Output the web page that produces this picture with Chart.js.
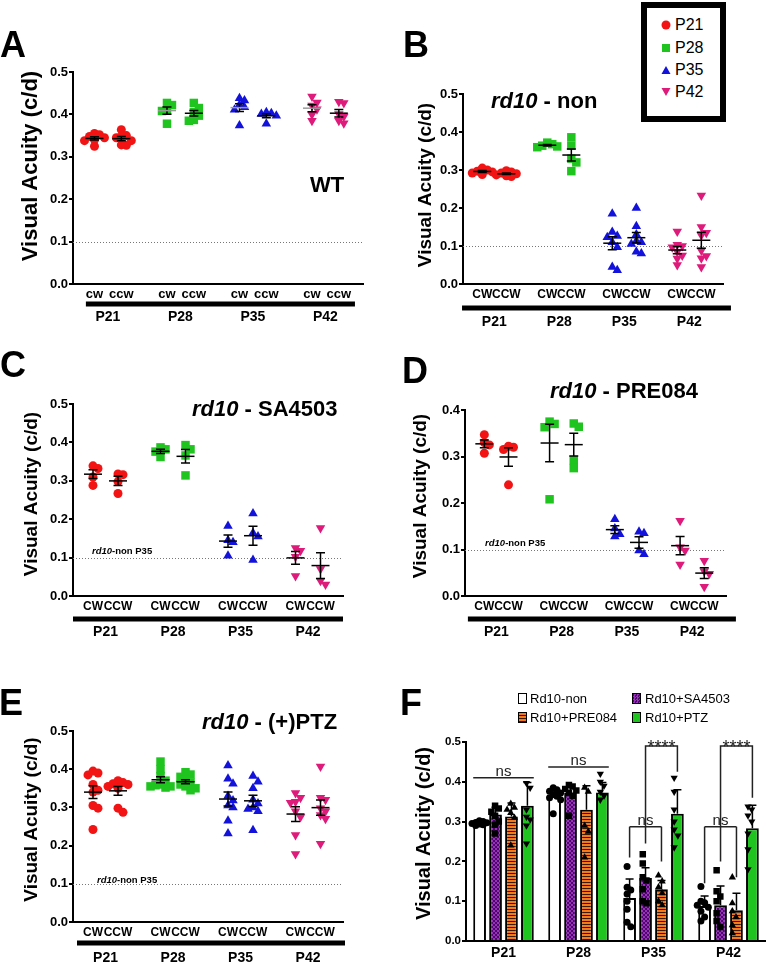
<!DOCTYPE html>
<html>
<head>
<meta charset="utf-8">
<script src="https://cdn.jsdelivr.net/npm/chart.js@4.4.1/dist/chart.umd.min.js"></script>
<style>
  body { margin: 0; background: #fff; font-family: "Liberation Sans", Arial, sans-serif; }
  #page { position: relative; width: 766px; height: 963px; overflow: hidden; }
  canvas { position: absolute; }
  .letter { position: absolute; font-weight: bold; font-size: 36px; line-height: 36px; }
  .ttl { position: absolute; font-weight: bold; font-size: 22px; line-height: 22px; white-space: nowrap; }
  .lg { position: absolute; font-size: 16px; line-height: 16px; white-space: nowrap; }
  .lgf { position: absolute; font-size: 13px; line-height: 13px; white-space: nowrap; }
  .box { position: absolute; box-sizing: border-box; width: 9px; height: 11px; border: 1.5px solid #000; }
</style>
</head>
<body>
<div id="page">
  <canvas id="cA" width="383" height="290" style="left:0;top:40px"></canvas>
  <canvas id="cB" width="383" height="290" style="left:383px;top:40px"></canvas>
  <canvas id="cC" width="383" height="290" style="left:0;top:350px"></canvas>
  <canvas id="cD" width="383" height="290" style="left:383px;top:350px"></canvas>
  <canvas id="cE" width="383" height="293" style="left:0;top:670px"></canvas>
  <canvas id="cF" width="383" height="293" style="left:383px;top:670px"></canvas>
  <canvas id="cFpts" width="383" height="293" style="left:383px;top:670px"></canvas>

  <div class="letter" style="left:0;top:27px">A</div>
  <div class="letter" style="left:403px;top:27px">B</div>
  <div class="letter" style="left:0;top:347px">C</div>
  <div class="letter" style="left:402px;top:353px">D</div>
  <div class="letter" style="left:-1px;top:685px">E</div>
  <div class="letter" style="left:400px;top:685px">F</div>

  <div class="ttl" style="left:310px;top:174px">WT</div>
  <div class="ttl" style="left:491px;top:90px"><i>rd10</i> - non</div>
  <div class="ttl" style="left:192px;top:398px"><i>rd10</i> - SA4503</div>
  <div class="ttl" style="left:550px;top:380px"><i>rd10</i> - PRE084</div>
  <div class="ttl" style="left:202px;top:711px"><i>rd10</i> - (+)PTZ</div>

  <!-- legend of panel B -->
  <div style="position:absolute;left:641px;top:2px;width:73px;height:108px;border:6px solid #000;background:#fff"></div>
  <svg style="position:absolute;left:661px;top:20px" width="10" height="10"><circle cx="5" cy="5" r="4.5" fill="#f21414"/></svg>
  <svg style="position:absolute;left:661px;top:43px" width="10" height="10"><rect x="1" y="1" width="8" height="8" fill="#1fc41f"/></svg>
  <svg style="position:absolute;left:661px;top:65px" width="10" height="10"><polygon points="5,1 9.5,9 0.5,9" fill="#1212dc"/></svg>
  <svg style="position:absolute;left:661px;top:87px" width="10" height="10"><polygon points="0.5,1 9.5,1 5,9" fill="#de1a7a"/></svg>
  <div class="lg" style="left:675px;top:17px">P21</div>
  <div class="lg" style="left:675px;top:40px">P28</div>
  <div class="lg" style="left:675px;top:62px">P35</div>
  <div class="lg" style="left:675px;top:84px">P42</div>

  <!-- legend of panel F -->
  <div class="box" style="left:518px;top:693px;background:#fff"></div>
  <div class="box" style="left:632px;top:693px;background:conic-gradient(#9a2fc0 25%,#4a0a66 0 50%,#9a2fc0 0 75%,#4a0a66 0) 0 0/3px 3px"></div>
  <div class="box" style="left:518px;top:712px;background:repeating-linear-gradient(#f5781e 0 2px,#3b1800 2px 3px)"></div>
  <div class="box" style="left:632px;top:712px;background:#1fc41f"></div>
  <div class="lgf" style="left:530px;top:692px">Rd10-non</div>
  <div class="lgf" style="left:645px;top:692px">Rd10+SA4503</div>
  <div class="lgf" style="left:530px;top:711px">Rd10+PRE084</div>
  <div class="lgf" style="left:645px;top:711px">Rd10+PTZ</div>
</div>

<script>
// age groups and the two rotation directions
const groups = ['P21', 'P28', 'P35', 'P42'];

// A: wild type
const wtCW  = [[0.355, 0.352, 0.348, 0.345, 0.340, 0.338, 0.325], [0.427, 0.422, 0.410, 0.408, 0.378],
               [0.438, 0.433, 0.423, 0.417, 0.411, 0.374], [0.442, 0.428, 0.421, 0.412, 0.400, 0.385]];
const wtCCW = [[0.364, 0.350, 0.348, 0.345, 0.338, 0.328, 0.327], [0.427, 0.415, 0.405, 0.397, 0.387, 0.385],
               [0.405, 0.403, 0.401, 0.397, 0.378], [0.430, 0.427, 0.401, 0.395, 0.385, 0.379]];
// B: rd10 - non
const nonCW  = [[0.305, 0.300, 0.297, 0.295, 0.292, 0.288], [0.372, 0.368, 0.364, 0.362, 0.360],
                [0.185, 0.137, 0.126, 0.123, 0.110, 0.097, 0.045, 0.036], [0.138, 0.103, 0.100, 0.097, 0.085, 0.075, 0.067, 0.050]];
const nonCCW = [[0.298, 0.295, 0.292, 0.290, 0.287, 0.285, 0.283], [0.386, 0.364, 0.330, 0.320, 0.297],
                [0.200, 0.152, 0.130, 0.113, 0.110, 0.105, 0.085, 0.080], [0.233, 0.150, 0.135, 0.128, 0.088, 0.074, 0.068, 0.045]];
// C: rd10 - SA4503
const saCW  = [[0.339, 0.332, 0.310, 0.288], [0.387, 0.382, 0.376, 0.362], [0.182, 0.145, 0.140, 0.105], [0.125, 0.118, 0.102, 0.052]];
const saCCW = [[0.318, 0.316, 0.298, 0.267], [0.393, 0.382, 0.366, 0.314], [0.215, 0.164, 0.155, 0.094], [0.177, 0.070, 0.040, 0.030]];
// D: rd10 - PRE084
const preCW  = [[0.347, 0.330, 0.325, 0.307], [0.375, 0.370, 0.363, 0.208], [0.165, 0.145, 0.133, 0.128], [0.162, 0.105, 0.098, 0.068]];
const preCCW = [[0.322, 0.320, 0.315, 0.239], [0.371, 0.364, 0.292, 0.275], [0.138, 0.135, 0.098, 0.090], [0.076, 0.053, 0.048, 0.020]];
// E: rd10 - (+)PTZ
const ptzCW  = [[0.395, 0.390, 0.385, 0.360, 0.345, 0.340, 0.305, 0.298, 0.242],
                [0.420, 0.400, 0.382, 0.370, 0.360, 0.358, 0.355, 0.355, 0.352],
                [0.410, 0.375, 0.362, 0.330, 0.318, 0.305, 0.300, 0.265, 0.232],
                [0.338, 0.325, 0.315, 0.312, 0.290, 0.275, 0.228, 0.178]];
const ptzCCW = [[0.370, 0.365, 0.362, 0.360, 0.355, 0.350, 0.298, 0.287],
                [0.392, 0.386, 0.380, 0.372, 0.365, 0.360, 0.355, 0.350, 0.345],
                [0.382, 0.367, 0.350, 0.320, 0.310, 0.300, 0.296, 0.290, 0.240],
                [0.407, 0.325, 0.320, 0.298, 0.290, 0.280, 0.270, 0.205]];

// F: bar means, SD and individual animals
const barNon = [0.298, 0.365, 0.108, 0.088];
const barSA  = [0.318, 0.372, 0.158, 0.090];
const barPRE = [0.313, 0.330, 0.130, 0.077];
const barPTZ = [0.340, 0.373, 0.320, 0.283];
const sdNon = [0.006, 0.014, 0.048, 0.025];
const sdSA  = [0.018, 0.014, 0.026, 0.048];
const sdPRE = [0.034, 0.060, 0.022, 0.043];
const sdPTZ = [0.058, 0.025, 0.060, 0.058];
const ptsNon = [[0.302, 0.300, 0.298, 0.297, 0.295, 0.294, 0.292, 0.290], [0.385, 0.380, 0.376, 0.372, 0.368, 0.364, 0.360, 0.355, 0.320],
                [0.187, 0.135, 0.128, 0.118, 0.100, 0.080, 0.047, 0.036], [0.137, 0.100, 0.096, 0.090, 0.085, 0.075, 0.060, 0.050]];
const ptsSA  = [[0.340, 0.333, 0.325, 0.315, 0.300, 0.292, 0.270], [0.392, 0.388, 0.382, 0.378, 0.372, 0.365, 0.315],
                [0.218, 0.195, 0.160, 0.152, 0.130, 0.100, 0.095], [0.178, 0.125, 0.112, 0.100, 0.070, 0.050, 0.035]];
const ptsPRE = [[0.345, 0.335, 0.330, 0.322, 0.310, 0.240], [0.385, 0.375, 0.290, 0.275, 0.210],
                [0.165, 0.150, 0.135, 0.120, 0.100, 0.090], [0.160, 0.095, 0.075, 0.060, 0.040, 0.020]];
const ptsPTZ = [[0.397, 0.385, 0.330, 0.312, 0.305, 0.290, 0.245], [0.420, 0.400, 0.390, 0.375, 0.365, 0.355],
                [0.410, 0.375, 0.330, 0.300, 0.280, 0.265, 0.235], [0.338, 0.330, 0.315, 0.300, 0.270, 0.230, 0.180]];
// significance marks in F
const nsLine   = [0.41, 0.437, 0.287, 0.287];
const nsLegs   = [[], [], [0.21, 0.245, 0.20], [0.145, 0.20, 0.16]];
const starLine = [null, null, 0.49, 0.49];
const starLeg  = [null, null, 0.425, 0.36];

Chart.defaults.font.family = '"Liberation Sans", Arial, sans-serif';
Chart.defaults.color = '#000';

const dotColors = ['#f21414', '#1fc41f', '#1212dc', '#de1a7a'];
const dotStyles = ['circle', 'rect', 'triangle', 'triangle'];
const dotRot = [0, 0, 0, 180];
const dotRadius = [4.5, 6, 5.5, 5.5];
const GAP = 2.7;

const mean = a => a.reduce((s, v) => s + v, 0) / a.length;
const sem = a => {
  const m = mean(a);
  return Math.sqrt(a.reduce((s, v) => s + (v - m) ** 2, 0) / (a.length - 1) / a.length);
};

// spread points sideways so they don't sit on top of each other
function swarm(vals, dyTol, step, maxK) {
  const offs = vals.map(() => 0);
  const placed = [];
  const idx = vals.map((v, i) => i).sort((a, b) => vals[b] - vals[a]);
  idx.forEach(i => {
    let best = 0, bestHits = Infinity;
    for (let k = 0; k <= 2 * maxK; k++) {
      const c = (k % 2 ? 1 : -1) * Math.ceil(k / 2) * step;
      const hits = placed.filter(p => Math.abs(p.y - vals[i]) < dyTol && Math.abs(p.x - c) < step * 0.9).length;
      if (hits < bestHits) { best = c; bestHits = hits; }
      if (hits === 0) break;
    }
    offs[i] = best;
    placed.push({x: best, y: vals[i]});
  });
  return offs;
}

const panelDecor = {
  id: 'panelDecor',
  beforeDatasetsDraw(chart, args, o) {
    const {ctx, chartArea: a, scales: {x, y}} = chart;
    const py = Math.round(y.getPixelForValue(0.1)) + 0.5;
    ctx.save();
    ctx.strokeStyle = '#777';
    ctx.lineWidth = 1;
    ctx.setLineDash([1, 2]);
    ctx.beginPath(); ctx.moveTo(a.left, py); ctx.lineTo(a.right, py); ctx.stroke();
    ctx.setLineDash([]);
    if (o.refLabel) {
      ctx.fillStyle = '#000';
      let px = x.getPixelForValue(o.refX);
      ctx.font = 'italic bold 9.5px "Liberation Sans", Arial';
      ctx.fillText('rd10', px, py - o.refDy);
      px += ctx.measureText('rd10').width;
      ctx.font = 'bold 9.5px "Liberation Sans", Arial';
      ctx.fillText('-non P35', px, py - o.refDy);
    }
    ctx.restore();
  },
  afterDatasetsDraw(chart) {
    const {ctx, scales: {x, y}} = chart;
    ctx.save();
    ctx.lineWidth = 1.5;
    chart.data.datasets.forEach(ds => {
      const m = mean(ds.values), e = sem(ds.values);
      const cx = x.getPixelForValue(ds.center);
      const ym = y.getPixelForValue(m), yt = y.getPixelForValue(m + e), yb = y.getPixelForValue(m - e);
      ctx.strokeStyle = '#000';
      ctx.beginPath();
      ctx.moveTo(cx, yt); ctx.lineTo(cx, yb);
      ctx.moveTo(cx - 4.5, yt); ctx.lineTo(cx + 4.5, yt);
      ctx.moveTo(cx - 4.5, yb); ctx.lineTo(cx + 4.5, yb);
      ctx.stroke();
      ctx.strokeStyle = ds.meanColor;
      ctx.beginPath(); ctx.moveTo(cx - 9, ym); ctx.lineTo(cx + 9, ym); ctx.stroke();
    });
    ctx.restore();
  },
  afterDraw(chart, args, o) {
    const {ctx, chartArea: a, scales: {x}} = chart;
    ctx.save();
    ctx.fillStyle = '#000';
    const x0 = x.getPixelForValue(o.span[0]), x1 = x.getPixelForValue(o.span[1]);
    ctx.fillRect(x0, a.bottom + o.lineDy - 2.5, x1 - x0, 5);
    ctx.font = 'bold 14px "Liberation Sans", Arial';
    ctx.textAlign = 'center';
    ctx.textBaseline = 'middle';
    groups.forEach((g, gi) => ctx.fillText(g, x.getPixelForValue(gi * GAP + 0.5), a.bottom + o.labDy));
    ctx.translate(o.titleX, (a.top + a.bottom) / 2 - o.titleShift);
    ctx.rotate(-Math.PI / 2);
    ctx.font = 'bold ' + o.titleSize + 'px "Liberation Sans", Arial';
    ctx.fillText('Visual Acuity (c/d)', 0, 0);
    ctx.restore();
  }
};

function scatterPanel(id, cw, ccw, o) {
  const datasets = [];
  const ticksAt = [];
  groups.forEach((g, gi) => {
    [cw[gi], ccw[gi]].forEach((vals, k) => {
      const cx = gi * GAP + k;
      ticksAt.push(cx);
      const offs = swarm(vals, 6 / o.pxY, 5 / o.pxX, 2);
      datasets.push({
        data: vals.map((v, i) => ({x: cx + offs[i], y: v})),
        values: vals,
        center: cx,
        meanColor: (o.greyMean && k === 0 && gi > 0) ? '#9a9a9a' : '#000',
        pointStyle: dotStyles[gi],
        rotation: dotRot[gi],
        pointRadius: dotRadius[gi],
        backgroundColor: dotColors[gi],
        borderColor: dotColors[gi],
        borderWidth: 0
      });
    });
  });
  new Chart(document.getElementById(id), {
    type: 'scatter',
    data: {datasets},
    options: {
      responsive: false,
      animation: false,
      layout: {padding: {left: 0, top: o.top, right: o.right, bottom: 0}},
      plugins: {legend: {display: false}, tooltip: {enabled: false}, panelDecor: o},
      scales: {
        x: {
          type: 'linear', min: -0.8, max: 10,
          afterBuildTicks: s => { s.ticks = ticksAt.map(v => ({value: v})); },
          afterFit: s => { s.height = o.xH; },
          grid: {display: false, drawTicks: false},
          border: {display: true, color: '#000', width: 2},
          ticks: {autoSkip: false, maxRotation: 0, padding: 3, color: '#000',
                  font: {size: o.cwSize, weight: 'bold'},
                  callback: (v, i) => i % 2 ? o.ccw : o.cw}
        },
        y: {
          min: 0, max: o.yMax,
          afterFit: s => { s.width = o.yW; },
          grid: {drawOnChartArea: false, drawTicks: true, tickLength: 4, color: '#000', lineWidth: 2},
          border: {display: true, color: '#000', width: 2},
          ticks: {stepSize: 0.1, padding: 1, color: '#000', font: {size: 13, weight: 'bold'},
                  callback: v => v.toFixed(1)}
        }
      }
    },
    plugins: [panelDecor]
  });
}

scatterPanel('cA', wtCW, wtCCW, {yMax: 0.5, top: 32, right: 20, yW: 73, xH: 46, cw: 'cw', ccw: 'ccw', cwSize: 13,
  span: [-0.32, 9.7], lineDy: 20, labDy: 33, titleX: 31, titleShift: 12, titleSize: 22, pxX: 26.9, pxY: 424,
  greyMean: true, refLabel: false});
scatterPanel('cB', nonCW, nonCCW, {yMax: 0.5, top: 54, right: 43, yW: 80, xH: 46, cw: 'CW', ccw: 'CCW', cwSize: 12,
  span: [-0.84, 10.33], lineDy: 24, labDy: 38, titleX: 43, titleShift: 4, titleSize: 19, pxX: 24.1, pxY: 380,
  greyMean: false, refLabel: false});
scatterPanel('cC', saCW, saCCW, {yMax: 0.5, top: 54, right: 40, yW: 73, xH: 44, cw: 'CW', ccw: 'CCW', cwSize: 12,
  span: [-0.8, 10.0], lineDy: 23, labDy: 36, titleX: 32, titleShift: 6, titleSize: 19, pxX: 25, pxY: 384,
  greyMean: false, refLabel: true, refX: -0.04, refDy: 5});
scatterPanel('cD', preCW, preCCW, {yMax: 0.4, top: 60, right: 40, yW: 82, xH: 44, cw: 'CW', ccw: 'CCW', cwSize: 12,
  span: [-0.68, 10.41], lineDy: 23, labDy: 36, titleX: 38, titleShift: 7, titleSize: 19, pxX: 24.2, pxY: 465,
  greyMean: false, refLabel: true, refX: 0.03, refDy: 5});
scatterPanel('cE', ptzCW, ptzCCW, {yMax: 0.5, top: 61, right: 40, yW: 73, xH: 41, cw: 'CW', ccw: 'CCW', cwSize: 12,
  span: [-0.64, 10.08], lineDy: 21, labDy: 36, titleX: 32, titleShift: 7, titleSize: 19, pxX: 25, pxY: 382,
  greyMean: false, refLabel: true, refX: 0.16, refDy: 2});

// ---- panel F: bars ----
const ctxF = document.getElementById('cF').getContext('2d');
function tile(w, h, draw) {
  const c = document.createElement('canvas');
  c.width = w; c.height = h;
  draw(c.getContext('2d'));
  return ctxF.createPattern(c, 'repeat');
}
const purpleFill = tile(4, 4, t => {
  t.fillStyle = '#9a2fc0'; t.fillRect(0, 0, 4, 4);
  t.fillStyle = '#4a0a66'; t.fillRect(0, 0, 2, 2); t.fillRect(2, 2, 2, 2);
});
const orangeFill = tile(1, 3, t => {
  t.fillStyle = '#f5781e'; t.fillRect(0, 0, 1, 3);
  t.fillStyle = '#3b1800'; t.fillRect(0, 2, 1, 1);
});

const seriesF = [
  {label: 'Rd10-non',    bars: barNon, sd: sdNon, pts: ptsNon, fill: '#ffffff', style: 'circle',   rot: 0,   r: 3.5},
  {label: 'Rd10+SA4503', bars: barSA,  sd: sdSA,  pts: ptsSA,  fill: purpleFill, style: 'rect',    rot: 0,   r: 4.6},
  {label: 'Rd10+PRE084', bars: barPRE, sd: sdPRE, pts: ptsPRE, fill: orangeFill, style: 'triangle', rot: 0,  r: 4.2},
  {label: 'Rd10+PTZ',    bars: barPTZ, sd: sdPTZ, pts: ptsPTZ, fill: '#1fc41f', style: 'triangle', rot: 180, r: 4.2}
];
const CAT_PCT = 0.85, BAR_PCT = 0.8;

const fDecor = {
  id: 'fDecor',
  afterDatasetsDraw(chart) {
    const {ctx, scales: {y}} = chart;
    ctx.save();
    ctx.strokeStyle = '#000';
    ctx.lineWidth = 1.5;
    // SD whiskers
    chart.data.datasets.forEach((ds, d) => {
      chart.getDatasetMeta(d).data.forEach((bar, gi) => {
        const yt = y.getPixelForValue(ds.data[gi] + ds.sd[gi]);
        ctx.beginPath();
        ctx.moveTo(bar.x, bar.y); ctx.lineTo(bar.x, yt);
        ctx.moveTo(bar.x - 4, yt); ctx.lineTo(bar.x + 4, yt);
        ctx.stroke();
      });
    });
    // comparisons
    ctx.fillStyle = '#222';
    ctx.textAlign = 'center';
    ctx.textBaseline = 'alphabetic';
    ctx.strokeStyle = '#222';
    groups.forEach((g, gi) => {
      const bars = [0, 1, 2, 3].map(d => chart.getDatasetMeta(d).data[gi]);
      const yn = y.getPixelForValue(nsLine[gi]);
      ctx.font = '15px "Liberation Sans", Arial';
      if (!nsLegs[gi].length) {
        const x0 = bars[0].x - bars[0].width / 2, x1 = bars[3].x + bars[3].width / 2;
        ctx.beginPath(); ctx.moveTo(x0, yn); ctx.lineTo(x1, yn); ctx.stroke();
        ctx.fillText('ns', (x0 + x1) / 2, yn - 2);
        return;
      }
      ctx.beginPath();
      ctx.moveTo(bars[0].x, yn); ctx.lineTo(bars[2].x, yn);
      nsLegs[gi].forEach((v, k) => { ctx.moveTo(bars[k].x, yn); ctx.lineTo(bars[k].x, y.getPixelForValue(v)); });
      const ys = y.getPixelForValue(starLine[gi]);
      ctx.moveTo(bars[1].x, yn); ctx.lineTo(bars[1].x, ys); ctx.lineTo(bars[3].x, ys);
      ctx.lineTo(bars[3].x, y.getPixelForValue(starLeg[gi]));
      ctx.stroke();
      ctx.fillText('ns', bars[1].x, yn - 2);
      ctx.font = '18px "Liberation Sans", Arial';
      ctx.fillText('****', (bars[1].x + bars[3].x) / 2, ys + 7);
    });
    ctx.restore();
  },
  afterDraw(chart) {
    const {ctx, chartArea: a} = chart;
    ctx.save();
    ctx.fillStyle = '#000';
    ctx.textAlign = 'center';
    ctx.textBaseline = 'middle';
    ctx.translate(41, (a.top + a.bottom) / 2 - 8);
    ctx.rotate(-Math.PI / 2);
    ctx.font = 'bold 20px "Liberation Sans", Arial';
    ctx.fillText('Visual Acuity (c/d)', 0, 0);
    ctx.restore();
  }
};

const fLayout = {padding: {left: 0, top: 72, right: 0, bottom: 0}};

new Chart(ctxF, {
  type: 'bar',
  data: {
    labels: groups,
    datasets: seriesF.map(s => ({
      label: s.label, data: s.bars, sd: s.sd,
      backgroundColor: s.fill, borderColor: '#000', borderWidth: 2,
      categoryPercentage: CAT_PCT, barPercentage: BAR_PCT
    }))
  },
  options: {
    responsive: false,
    animation: false,
    layout: fLayout,
    plugins: {legend: {display: false}, tooltip: {enabled: false}},
    scales: {
      x: {
        afterFit: s => { s.height = 22; },
        grid: {display: false, drawTicks: false},
        border: {display: true, color: '#000', width: 2},
        ticks: {padding: 4, color: '#000', font: {size: 14, weight: 'bold'}}
      },
      y: {
        min: 0, max: 0.5,
        afterFit: s => { s.width = 83; },
        grid: {drawOnChartArea: false, drawTicks: true, tickLength: 4, color: '#000', lineWidth: 2},
        border: {display: true, color: '#000', width: 2},
        ticks: {stepSize: 0.1, padding: 1, color: '#000', font: {size: 11.5, weight: 'bold'},
                callback: v => v.toFixed(1)}
      }
    }
  },
  plugins: [fDecor]
});

// ---- panel F: individual animals, on a transparent chart with the same plot area ----
new Chart(document.getElementById('cFpts'), {
  type: 'scatter',
  data: {
    datasets: seriesF.map((s, d) => {
      const pts = [];
      s.pts.forEach((vals, gi) => {
        const cx = gi + ((d + 0.5) / 4 - 0.5) * CAT_PCT;
        const offs = swarm(vals, 6 / 398, 0.05, 2);
        vals.forEach((v, i) => pts.push({x: cx + offs[i], y: v}));
      });
      return {
        data: pts, pointStyle: s.style, rotation: s.rot, pointRadius: s.r,
        backgroundColor: '#000', borderColor: '#000', borderWidth: 0
      };
    })
  },
  options: {
    responsive: false,
    animation: false,
    layout: fLayout,
    plugins: {legend: {display: false}, tooltip: {enabled: false}},
    scales: {
      x: {type: 'linear', min: -0.5, max: 3.5, afterFit: s => { s.height = 22; },
          grid: {display: false}, border: {display: false}, ticks: {display: false}},
      y: {min: 0, max: 0.5, afterFit: s => { s.width = 83; },
          grid: {display: false}, border: {display: false}, ticks: {display: false}}
    }
  }
});
</script>
</body>
</html>
